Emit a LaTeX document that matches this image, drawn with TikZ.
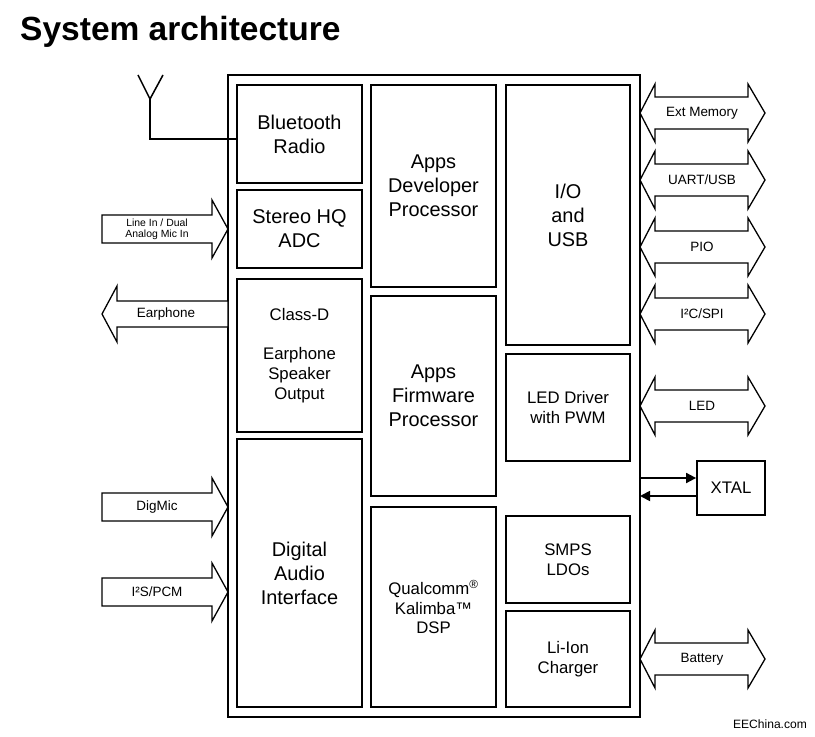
\documentclass[tikz,border=0pt]{standalone}
\usepackage{fontspec}
\setmainfont{Liberation Sans}
\usetikzlibrary{arrows.meta,positioning}
\tikzset{
  >={Triangle[length=3mm,width=3mm]},
  % blocks
  blk/.style={draw,line width=1.5pt,align=center,inner sep=0pt},
  big/.style={font=\fontsize{17}{20.5}\selectfont},
  sml/.style={font=\fontsize{14.3}{17}\selectfont},
  % pins
  pin/.style={draw,line width=1.1pt,fill=white},
  plbl/.style={font=\fontsize{11.5}{13}\selectfont,inner sep=1pt},
  wire/.style={draw,line width=1.5pt},
}
\begin{document}
\begin{tikzpicture}[x=0.03cm,y=-0.03cm]
  \useasboundingbox (0,0) rectangle (815,737);
  \node[anchor=base west,font=\bfseries\fontsize{28.6}{32}\selectfont,inner sep=0pt]
    (title) at (20,41) {System architecture};

  % chip
  \node[blk,minimum width=12.36cm,minimum height=19.26cm] (chip) at (434,396) {};
  \node[blk,big,minimum width=3.75cm,minimum height=2.94cm] (bt) at (299.5,134) {Bluetooth\\Radio};
  \node[blk,big,minimum width=3.75cm,minimum height=2.34cm] (adc) at (299.5,229) {Stereo HQ\\ADC};
  \node[blk,sml,minimum width=3.75cm,minimum height=4.59cm] (cls) at (299.5,355.5)
    {Class-D\\[17pt]Earphone\\Speaker\\Output};
  \node[blk,big,minimum width=3.75cm,minimum height=8.04cm] (dai) at (299.5,573) {Digital\\Audio\\Interface};
  \node[blk,big,minimum width=3.75cm,minimum height=6.06cm] (adp) at (433.5,186) {Apps\\Developer\\Processor};
  \node[blk,big,minimum width=3.75cm,minimum height=6cm] (afp) at (433.5,396) {Apps\\Firmware\\Processor};
  \node[blk,sml,minimum width=3.75cm,minimum height=6cm] (dsp) at (433.5,607)
    {Qualcomm\textsuperscript{®}\\Kalimba™\\DSP};
  \node[blk,big,minimum width=3.72cm,minimum height=7.8cm] (io) at (568,215) {I/O\\and\\USB};
  \node[blk,sml,minimum width=3.72cm,minimum height=3.21cm] (led) at (568,407.5) {LED Driver\\with PWM};
  \node[blk,sml,minimum width=3.72cm,minimum height=2.61cm] (smps) at (568,559.5) {SMPS\\LDOs};
  \node[blk,sml,minimum width=3.72cm,minimum height=2.88cm] (chg) at (568,659) {Li-Ion\\Charger};

  % antenna
  \coordinate (ant) at (150,99);
  \draw[wire,line width=1.3pt] (ant) -- ++(-12,-24) (ant) -- ++(13,-24);
  \draw[wire,line width=1.3pt] (ant) |- ([yshift=-1.5mm]bt.west);

  % audio pins
  \draw[pin] (102,215) -- (212,215) -- (212,200) -- (228,229) -- (212,258) -- (212,243) -- (102,243) -- cycle;
  \node[plbl,align=center,font=\fontsize{8.9}{9.4}\selectfont] (linein) at (157,229) {Line In / Dual\\Analog Mic In};
  \draw[pin] (228,301) -- (117,301) -- (117,286) -- (102,314) -- (117,342) -- (117,327) -- (228,327) -- cycle;
  \node[plbl] (ear) at (166,314) {Earphone};
  \draw[pin] (102,493) -- (212,493) -- (212,478) -- (228,507) -- (212,536) -- (212,521) -- (102,521) -- cycle;
  \node[plbl] (dmic) at (157,507) {DigMic};
  \draw[pin] (102,578) -- (212,578) -- (212,563) -- (228,592) -- (212,621) -- (212,606) -- (102,606) -- cycle;
  \node[plbl] (i2s) at (157,592) {I²S/PCM};

  % interface pins
  \foreach \yc/\nm/\txt in {113/ext/{Ext Memory},180/uart/{UART/USB},247/pio/PIO,
                            314/spi/{I²C/SPI},406/ledp/LED,659/bat/Battery}{
    \draw[pin] (640,\yc) -- (655,\yc-29) -- (655,\yc-16) -- (748,\yc-16) -- (748,\yc-29)
      -- (765,\yc) -- (748,\yc+29) -- (748,\yc+16) -- (655,\yc+16) -- (655,\yc+29) -- cycle;
    \node[plbl] (\nm) at (702,\yc) {\txt};
  }

  % crystal
  \node[blk,sml,minimum width=2.04cm,minimum height=1.62cm] (xtal) at (731,488) {XTAL};
  \coordinate (xin) at (640,478);
  \coordinate (xout) at (640,496);
  \draw[wire,->] (xin) -- (xin -| xtal.west);
  \draw[wire,->] (xout -| xtal.west) -- (xout);

  \node[font=\fontsize{10.3}{12}\selectfont,inner sep=0pt] (src) at (770,724) {EEChina.com};
\end{tikzpicture}
\end{document}
